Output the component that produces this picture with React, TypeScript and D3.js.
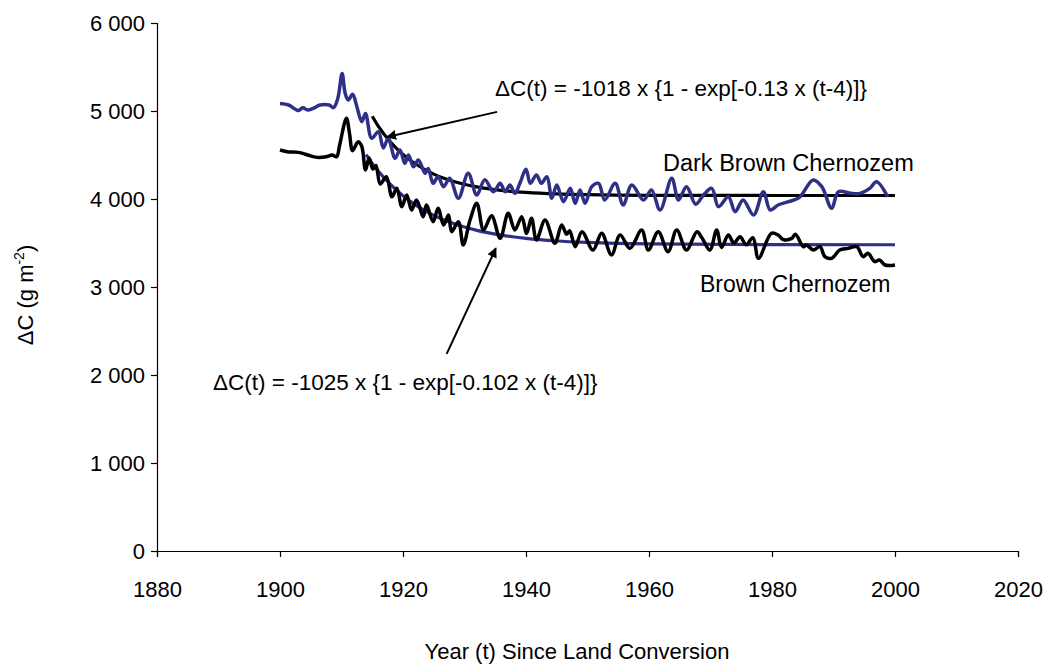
import React, { useEffect, useRef } from "react";
import * as d3 from "d3";

const xTicks = [1880, 1900, 1920, 1940, 1960, 1980, 2000, 2020];
const yTicks = [0, 1000, 2000, 3000, 4000, 5000, 6000];

// Dark Brown Chernozem (navy wiggly line)
const darkBrownYears = [
  1900, 1901.4, 1903, 1903.7, 1904.5, 1905.4, 1906.5, 1908, 1908.7, 1909.4, 1910.1, 1910.6, 1911.1, 1911.8,
  1912.5, 1913.3, 1913.9, 1914.9, 1916, 1916.8, 1917.6, 1918.7, 1919.5, 1920.3, 1920.9, 1921.7, 1922.5,
  1923.6, 1924.1, 1924.9, 1925.7, 1926.6, 1927.6, 1929, 1930.6, 1932, 1933.3, 1934.7, 1935.8, 1936.6,
  1937.4, 1938.2, 1939, 1940, 1940.7, 1941.7, 1942.5, 1943.4, 1944.2, 1945, 1946.1, 1947.2, 1948, 1948.8,
  1949.6, 1950.7, 1951.8, 1952.8, 1954.5, 1955.8, 1957.2, 1959.1, 1960.4, 1961.8, 1963.7, 1964.8, 1966.1,
  1967.6, 1968.8, 1970.2, 1971.3, 1972.9, 1974, 1975.3, 1977, 1978.6, 1979.7, 1981, 1982.7, 1984.4, 1986.7,
  1988.1, 1989.7, 1990.8, 1992.8, 1994.3, 1995.9, 1997, 1998.8,
];
const darkBrownValues = [
  5085, 5068, 5005, 5038, 5011, 5030, 5068, 5068, 5038, 5144, 5425, 5200, 5125, 5190,
  5049, 4878, 4973, 4690, 4765, 4580, 4690, 4462, 4557, 4405, 4500, 4367, 4443,
  4292, 4348, 4178, 4253, 4140, 4235, 4008, 4292, 4045, 4220, 4083, 4178, 4083,
  4159, 4064, 4178, 4337, 4178, 4273, 4178, 4253, 4008, 4159, 3970, 4121, 3951, 4102,
  3951, 4140, 4178, 3989, 4178, 3932, 4159, 3989, 4102, 3875, 4235, 3989, 4140,
  3940, 4040, 4121, 3913, 4026, 3856, 3989, 3818, 4083, 3875, 3932, 3970, 4015, 4216,
  4140, 3894, 4083, 4064, 4064, 4121, 4197, 4026,
];

// Brown Chernozem (black wiggly line)
const brownYears = [
  1900, 1901.4, 1903, 1904.5, 1906, 1907.5, 1908.5, 1909.2, 1909.7, 1910.8, 1911.3, 1911.8, 1912.7,
  1913.3, 1913.9, 1914.5, 1915.1, 1915.6, 1916.3, 1917.3, 1918.2, 1919, 1919.8, 1920.6, 1921.4, 1922.2,
  1923.3, 1923.8, 1924.9, 1925.7, 1926.6, 1927.4, 1927.9, 1929, 1929.8, 1930.9, 1932, 1933.1, 1934.4,
  1935.8, 1937.1, 1938.2, 1939.3, 1940.1, 1940.9, 1941.7, 1943.1, 1944.7, 1945.8, 1946.6, 1947.1, 1948,
  1949.1, 1950.9, 1952.3, 1953.9, 1955.3, 1956.9, 1958.8, 1959.9, 1961.5, 1963.1, 1964.5, 1966.1, 1967.8,
  1968.6, 1969.9, 1971, 1971.8, 1972.9, 1973.8, 1974.8, 1975.8, 1976.9, 1977.8, 1979.9, 1981, 1981.8,
  1983.2, 1983.8, 1985.1, 1985.6, 1986.7, 1987.8, 1988.6, 1989.7, 1991, 1992.4, 1993.8, 1994.8, 1995.6,
  1996.7, 1997.5, 1998.4, 2000,
];
const brownValues = [
  4557, 4535, 4530, 4500, 4473, 4480, 4500, 4480, 4614, 4917, 4747, 4549, 4650,
  4597, 4330, 4466, 4340, 4380, 4170, 4253, 4026, 4121, 3913, 4045, 3875, 3989,
  3799, 3932, 3742, 3894, 3705, 3818, 3629, 3742, 3477, 3761, 3951, 3648, 3810,
  3553, 3837, 3648, 3799, 3610, 3780, 3534, 3761, 3496, 3705, 3600, 3640, 3458,
  3629, 3420, 3610, 3364, 3591, 3439, 3648, 3420, 3629, 3401, 3648, 3420, 3629,
  3560, 3420, 3648, 3450, 3590, 3500, 3570, 3480, 3560, 3326, 3610, 3590, 3540,
  3553, 3600, 3458, 3477, 3420, 3458, 3345, 3326, 3420, 3439, 3458, 3345, 3383,
  3288, 3307, 3250, 3250,
];

// fitted curves
const darkFitYears = [1915, 1916, 1918, 1920, 1922, 1925, 1928, 1932, 1936, 1940, 1945, 1950, 1960, 1980, 2000];
const darkFitValues = [4940, 4825, 4645, 4506, 4400, 4283, 4205, 4138, 4098, 4075, 4058, 4049, 4042, 4040, 4040];
const brownFitYears = [1914, 1915, 1916, 1918, 1920, 1922, 1925, 1928, 1932, 1936, 1940, 1945, 1950, 1960, 1980, 2000];
const brownFitValues = [4505, 4405, 4316, 4162, 4036, 3933, 3814, 3726, 3643, 3589, 3552, 3523, 3506, 3489, 3481, 3480];

const NAVY = "#2e3086";
const FONT = "'Liberation Sans', Arial, sans-serif";

function App() {
  const ref = useRef<SVGSVGElement | null>(null);

  useEffect(() => {
    const width = 1046;
    const height = 664;
    const svg = d3.select(ref.current).attr("width", width).attr("height", height);
    svg.selectAll("*").remove();

    const x = d3.scaleLinear().domain([1880, 2020]).range([157, 1018]);
    const y = d3.scaleLinear().domain([0, 6000]).range([551, 23]);

    const defs = svg.append("defs");
    defs.append("marker").attr("id", "arrow").attr("viewBox", "0 0 10 10")
      .attr("refX", 9).attr("refY", 5).attr("markerWidth", 5).attr("markerHeight", 5)
      .attr("orient", "auto").attr("markerUnits", "strokeWidth")
      .append("path").attr("d", "M0,0 L10,5 L0,10 z").attr("fill", "#000");

    // axes
    const xAxis = d3.axisBottom(x).tickValues(xTicks).tickSize(6).tickPadding(24).tickFormat(d3.format("d"));
    const yAxis = d3.axisLeft(y).tickValues(yTicks).tickSize(6).tickPadding(6)
      .tickFormat((d) => d3.format(",")(d as number).replace(",", " "));

    const gx = svg.append("g").attr("transform", `translate(0, ${y(0)})`).call(xAxis);
    const gy = svg.append("g").attr("transform", `translate(${x(1880)}, 0)`).call(yAxis);
    [gx, gy].forEach((g) => {
      g.select(".domain").attr("stroke", "#000").attr("stroke-width", 1.2);
      g.selectAll(".tick line").attr("stroke", "#000").attr("stroke-width", 1.2);
      g.selectAll(".tick text").attr("font-family", FONT).attr("font-size", 22).attr("fill", "#000");
    });

    const pairs = (xs: number[], ys: number[]) => xs.map((d, i) => [d, ys[i]] as [number, number]);
    const line = d3.line<[number, number]>().x((d) => x(d[0])).y((d) => y(d[1])).curve(d3.curveCatmullRom.alpha(0.5));
    const fitLine = d3.line<[number, number]>().x((d) => x(d[0])).y((d) => y(d[1])).curve(d3.curveMonotoneX);

    // fits first, observed series on top
    svg.append("path").attr("d", fitLine(pairs(darkFitYears, darkFitValues)))
      .attr("fill", "none").attr("stroke", "#000").attr("stroke-width", 3.2);
    svg.append("path").attr("d", fitLine(pairs(brownFitYears, brownFitValues)))
      .attr("fill", "none").attr("stroke", NAVY).attr("stroke-width", 3.2);

    svg.append("path").attr("d", line(pairs(darkBrownYears, darkBrownValues)))
      .attr("fill", "none").attr("stroke", NAVY).attr("stroke-width", 3.5).attr("stroke-linejoin", "round");
    svg.append("path").attr("d", line(pairs(brownYears, brownValues)))
      .attr("fill", "none").attr("stroke", "#000").attr("stroke-width", 3.5).attr("stroke-linejoin", "round");

    // annotation arrows
    svg.append("line").attr("x1", x(1935.3)).attr("y1", y(4990)).attr("x2", x(1917.4)).attr("y2", y(4705))
      .attr("stroke", "#000").attr("stroke-width", 2).attr("marker-end", "url(#arrow)");
    svg.append("line").attr("x1", x(1927.1)).attr("y1", y(2240)).attr("x2", x(1935.1)).attr("y2", y(3440))
      .attr("stroke", "#000").attr("stroke-width", 2).attr("marker-end", "url(#arrow)");

    const label = (tx: number, ty: number, s: string, size = 22.5) =>
      svg.append("text").attr("x", tx).attr("y", ty).attr("font-family", FONT).attr("font-size", size)
        .attr("fill", "#000").text(s);

    label(495, 96, "ΔC(t) = -1018 x {1 - exp[-0.13 x (t-4)]}");
    label(213, 390, "ΔC(t) = -1025 x {1 - exp[-0.102 x (t-4)]}");
    label(663, 171, "Dark Brown Chernozem", 23.5);
    label(700, 292, "Brown Chernozem", 23);

    // axis titles
    svg.append("text").attr("x", 577).attr("y", 659).attr("text-anchor", "middle")
      .attr("font-family", FONT).attr("font-size", 22).text("Year (t) Since Land Conversion");

    const yt = svg.append("text").attr("transform", "translate(33, 295) rotate(-90)").attr("text-anchor", "middle")
      .attr("font-family", FONT).attr("font-size", 22);
    yt.append("tspan").text("ΔC (g m");
    yt.append("tspan").attr("font-size", 14).attr("dy", -9).text("-2");
    yt.append("tspan").attr("dy", 9).text(")");
  }, []);

  return (
    <svg ref={ref} style={{ position: "absolute", left: 0, top: 0, display: "block", background: "#fff" }} />
  );
}

export default App;
